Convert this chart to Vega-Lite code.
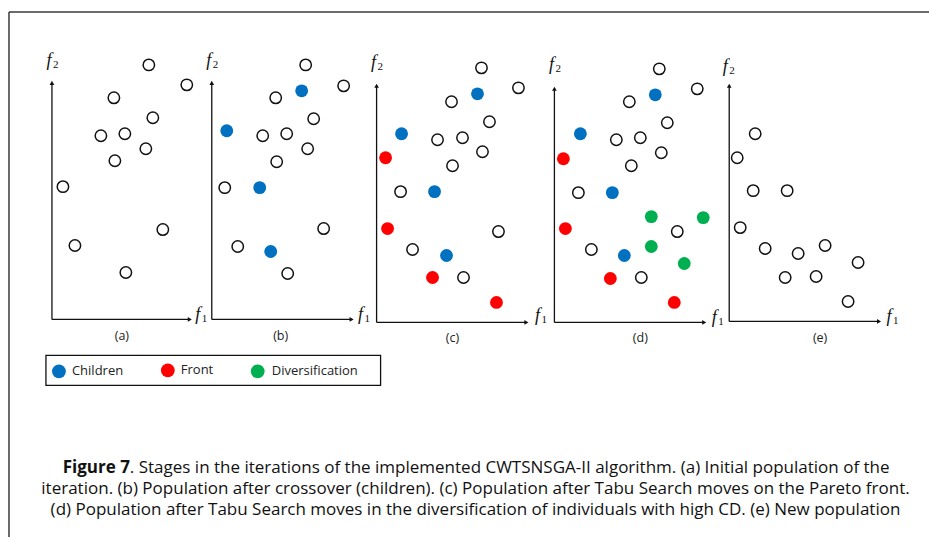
{
  "$schema": "https://vega.github.io/schema/vega-lite/v6.json",
  "autosize": {"type": "fit", "contains": "padding"},
  "width": 930,
  "height": 538,
  "padding": 0,
  "background": "white",
  "config": {"view": {"stroke": null}},
  "datasets": {
    "points": [
      {"panel": "a", "kind": "Open", "x": 149, "y": 65}, {"panel": "a", "kind": "Open", "x": 187, "y": 85}, {"panel": "a", "kind": "Open", "x": 114, "y": 98}, {"panel": "a", "kind": "Open", "x": 153, "y": 118}, {"panel": "a", "kind": "Open", "x": 101, "y": 136}, {"panel": "a", "kind": "Open", "x": 125, "y": 134}, {"panel": "a", "kind": "Open", "x": 146, "y": 149}, {"panel": "a", "kind": "Open", "x": 115, "y": 161}, {"panel": "a", "kind": "Open", "x": 63, "y": 187}, {"panel": "a", "kind": "Open", "x": 163, "y": 230}, {"panel": "a", "kind": "Open", "x": 75, "y": 246}, {"panel": "a", "kind": "Open", "x": 126, "y": 273},
      {"panel": "b", "kind": "Open", "x": 306, "y": 65}, {"panel": "b", "kind": "Open", "x": 344, "y": 86}, {"panel": "b", "kind": "Open", "x": 276, "y": 98}, {"panel": "b", "kind": "Open", "x": 314, "y": 119}, {"panel": "b", "kind": "Open", "x": 263, "y": 136}, {"panel": "b", "kind": "Open", "x": 287, "y": 134}, {"panel": "b", "kind": "Open", "x": 308, "y": 149}, {"panel": "b", "kind": "Open", "x": 277, "y": 162}, {"panel": "b", "kind": "Open", "x": 225, "y": 188}, {"panel": "b", "kind": "Open", "x": 324, "y": 229}, {"panel": "b", "kind": "Open", "x": 238, "y": 247}, {"panel": "b", "kind": "Open", "x": 288, "y": 274},
      {"panel": "b", "kind": "Children", "x": 302, "y": 91}, {"panel": "b", "kind": "Children", "x": 227, "y": 131}, {"panel": "b", "kind": "Children", "x": 260, "y": 188}, {"panel": "b", "kind": "Children", "x": 271, "y": 252},
      {"panel": "c", "kind": "Open", "x": 482, "y": 68}, {"panel": "c", "kind": "Open", "x": 519, "y": 88}, {"panel": "c", "kind": "Open", "x": 452, "y": 102}, {"panel": "c", "kind": "Open", "x": 490, "y": 122}, {"panel": "c", "kind": "Open", "x": 438, "y": 140}, {"panel": "c", "kind": "Open", "x": 463, "y": 138}, {"panel": "c", "kind": "Open", "x": 483, "y": 152}, {"panel": "c", "kind": "Open", "x": 453, "y": 166}, {"panel": "c", "kind": "Open", "x": 401, "y": 192}, {"panel": "c", "kind": "Open", "x": 499, "y": 232}, {"panel": "c", "kind": "Open", "x": 413, "y": 250}, {"panel": "c", "kind": "Open", "x": 464, "y": 278},
      {"panel": "c", "kind": "Children", "x": 478, "y": 94}, {"panel": "c", "kind": "Children", "x": 402, "y": 134}, {"panel": "c", "kind": "Children", "x": 435, "y": 192}, {"panel": "c", "kind": "Children", "x": 447, "y": 256},
      {"panel": "c", "kind": "Front", "x": 386, "y": 158}, {"panel": "c", "kind": "Front", "x": 388, "y": 229}, {"panel": "c", "kind": "Front", "x": 433, "y": 278}, {"panel": "c", "kind": "Front", "x": 497, "y": 303},
      {"panel": "d", "kind": "Open", "x": 660, "y": 69}, {"panel": "d", "kind": "Open", "x": 698, "y": 89}, {"panel": "d", "kind": "Open", "x": 630, "y": 102}, {"panel": "d", "kind": "Open", "x": 668, "y": 123}, {"panel": "d", "kind": "Open", "x": 617, "y": 140}, {"panel": "d", "kind": "Open", "x": 641, "y": 138}, {"panel": "d", "kind": "Open", "x": 662, "y": 153}, {"panel": "d", "kind": "Open", "x": 632, "y": 166}, {"panel": "d", "kind": "Open", "x": 579, "y": 193}, {"panel": "d", "kind": "Open", "x": 678, "y": 232}, {"panel": "d", "kind": "Open", "x": 592, "y": 250}, {"panel": "d", "kind": "Open", "x": 642, "y": 278},
      {"panel": "d", "kind": "Children", "x": 656, "y": 95}, {"panel": "d", "kind": "Children", "x": 581, "y": 134}, {"panel": "d", "kind": "Children", "x": 613, "y": 193}, {"panel": "d", "kind": "Children", "x": 625, "y": 256},
      {"panel": "d", "kind": "Front", "x": 564, "y": 159}, {"panel": "d", "kind": "Front", "x": 566, "y": 229}, {"panel": "d", "kind": "Front", "x": 611, "y": 279}, {"panel": "d", "kind": "Front", "x": 675, "y": 303},
      {"panel": "d", "kind": "Diversification", "x": 652, "y": 217}, {"panel": "d", "kind": "Diversification", "x": 704, "y": 218}, {"panel": "d", "kind": "Diversification", "x": 652, "y": 247}, {"panel": "d", "kind": "Diversification", "x": 685, "y": 264},
      {"panel": "e", "kind": "Open", "x": 756, "y": 134}, {"panel": "e", "kind": "Open", "x": 738, "y": 158}, {"panel": "e", "kind": "Open", "x": 754, "y": 191}, {"panel": "e", "kind": "Open", "x": 788, "y": 191}, {"panel": "e", "kind": "Open", "x": 741, "y": 228}, {"panel": "e", "kind": "Open", "x": 766, "y": 249}, {"panel": "e", "kind": "Open", "x": 799, "y": 254}, {"panel": "e", "kind": "Open", "x": 826, "y": 246}, {"panel": "e", "kind": "Open", "x": 859, "y": 263}, {"panel": "e", "kind": "Open", "x": 786, "y": 278}, {"panel": "e", "kind": "Open", "x": 817, "y": 277}, {"panel": "e", "kind": "Open", "x": 849, "y": 302}
    ],
    "axes": [
      {"panel": "a", "x": 52, "y": 320, "x2": 52, "y2": 84}, {"panel": "a", "x": 52, "y": 320, "x2": 189, "y2": 320},
      {"panel": "b", "x": 212, "y": 320, "x2": 212, "y2": 84}, {"panel": "b", "x": 212, "y": 320, "x2": 351, "y2": 320},
      {"panel": "c", "x": 377, "y": 323, "x2": 377, "y2": 87}, {"panel": "c", "x": 377, "y": 323, "x2": 526, "y2": 323},
      {"panel": "d", "x": 555, "y": 323, "x2": 555, "y2": 90}, {"panel": "d", "x": 555, "y": 323, "x2": 704, "y2": 323},
      {"panel": "e", "x": 730, "y": 322, "x2": 730, "y2": 87}, {"panel": "e", "x": 730, "y": 322, "x2": 879, "y2": 322}
    ],
    "arrowsUp": [
      {"x": 52, "y": 83}, {"x": 212, "y": 83}, {"x": 377, "y": 86}, {"x": 555, "y": 89}, {"x": 730, "y": 86}
    ],
    "arrowsRight": [
      {"x": 190, "y": 320}, {"x": 352, "y": 320}, {"x": 527, "y": 323}, {"x": 705, "y": 323}, {"x": 880, "y": 322}
    ],
    "axisLabels": [
      {"sub": "2", "x": 52, "y": 61}, {"sub": "2", "x": 212, "y": 61}, {"sub": "2", "x": 377, "y": 63}, {"sub": "2", "x": 555, "y": 65}, {"sub": "2", "x": 729, "y": 67},
      {"sub": "1", "x": 201, "y": 316}, {"sub": "1", "x": 364, "y": 316}, {"sub": "1", "x": 541, "y": 317}, {"sub": "1", "x": 718, "y": 319}, {"sub": "1", "x": 893, "y": 318}
    ],
    "panelLabels": [
      {"t": "(a)", "x": 122, "y": 337}, {"t": "(b)", "x": 281, "y": 337}, {"t": "(c)", "x": 453, "y": 339}, {"t": "(d)", "x": 641, "y": 339}, {"t": "(e)", "x": 821, "y": 339}
    ],
    "frame": [
      {"x": 9, "y": 12, "x2": 930, "y2": 12}, {"x": 9, "y": 12, "x2": 9, "y2": 538}
    ],
    "legendBox": [{"x": 46, "y": 356, "x2": 381, "y2": 386}],
    "legendItems": [
      {"kind": "Children", "x": 59, "y": 372, "tx": 72}, {"kind": "Front", "x": 168, "y": 371, "tx": 181}, {"kind": "Diversification", "x": 258, "y": 372, "tx": 272}
    ],
    "captionBold": [{"t": "Figure 7", "x": 130, "y": 469}],
    "caption": [
      {"t": ". Stages in the iterations of the implemented CWTSNSGA-II algorithm. (a) Initial population of the", "x": 130, "y": 469}
    ],
    "captionCentered": [
      {"t": "iteration. (b) Population after crossover (children). (c) Population after Tabu Search moves on the Pareto front.", "x": 476, "y": 490},
      {"t": "(d) Population after Tabu Search moves in the diversification of individuals with high CD. (e) New population", "x": 476, "y": 511}
    ]
  },
  "encoding": {
    "x": {"field": "x", "type": "quantitative", "scale": {"domain": [0, 930], "nice": false, "zero": false}, "axis": null},
    "y": {"field": "y", "type": "quantitative", "scale": {"domain": [0, 538], "nice": false, "zero": false, "reverse": true}, "axis": null}
  },
  "layer": [
    {
      "data": {"name": "frame"},
      "mark": {"type": "rule", "stroke": "#3a3a3a", "strokeWidth": 1.5},
      "encoding": {"x2": {"field": "x2"}, "y2": {"field": "y2"}}
    },
    {
      "data": {"name": "axes"},
      "mark": {"type": "rule", "stroke": "#111", "strokeWidth": 1.3},
      "encoding": {"x2": {"field": "x2"}, "y2": {"field": "y2"}}
    },
    {
      "data": {"name": "arrowsUp"},
      "mark": {"type": "point", "shape": "triangle-up", "filled": true, "fill": "#111", "size": 22, "opacity": 1}
    },
    {
      "data": {"name": "arrowsRight"},
      "mark": {"type": "point", "shape": "triangle-right", "filled": true, "fill": "#111", "size": 22, "opacity": 1}
    },
    {
      "data": {"name": "points"},
      "transform": [{"filter": "datum.kind === 'Open'"}],
      "mark": {"type": "point", "shape": "circle", "filled": false, "fill": "white", "stroke": "#111", "strokeWidth": 1.5, "size": 130, "opacity": 1}
    },
    {
      "data": {"name": "points"},
      "transform": [{"filter": "datum.kind !== 'Open'"}],
      "mark": {"type": "point", "shape": "circle", "filled": true, "size": 165, "opacity": 1},
      "encoding": {
        "color": {"field": "kind", "type": "nominal", "scale": {"domain": ["Children", "Front", "Diversification"], "range": ["#0070C0", "#FF0000", "#00B050"]}, "legend": null}
      }
    },
    {
      "data": {"name": "axisLabels"},
      "mark": {"type": "text", "font": "Liberation Serif", "fontStyle": "italic", "fontSize": 18, "align": "center", "baseline": "middle", "color": "#111", "dx": -3},
      "encoding": {"text": {"value": "f"}}
    },
    {
      "data": {"name": "axisLabels"},
      "mark": {"type": "text", "font": "Liberation Serif", "fontSize": 11, "align": "left", "baseline": "middle", "color": "#111", "dx": 1, "dy": 4},
      "encoding": {"text": {"field": "sub"}}
    },
    {
      "data": {"name": "panelLabels"},
      "mark": {"type": "text", "font": "Open Sans", "fontSize": 12.5, "align": "center", "baseline": "middle", "color": "#222"},
      "encoding": {"text": {"field": "t"}}
    },
    {
      "data": {"name": "legendBox"},
      "mark": {"type": "rect", "fill": null, "stroke": "#111", "strokeWidth": 1.3},
      "encoding": {"x2": {"field": "x2"}, "y2": {"field": "y2"}}
    },
    {
      "data": {"name": "legendItems"},
      "mark": {"type": "point", "shape": "circle", "filled": true, "size": 190, "opacity": 1},
      "encoding": {
        "color": {"field": "kind", "type": "nominal", "scale": {"domain": ["Children", "Front", "Diversification"], "range": ["#0070C0", "#FF0000", "#00B050"]}, "legend": null}
      }
    },
    {
      "data": {"name": "legendItems"},
      "mark": {"type": "text", "font": "Open Sans", "fontSize": 13, "align": "left", "baseline": "middle", "color": "#222"},
      "encoding": {"x": {"field": "tx", "type": "quantitative"}, "text": {"field": "kind"}}
    },
    {
      "data": {"name": "captionBold"},
      "mark": {"type": "text", "font": "Open Sans", "fontSize": 17, "fontWeight": "bold", "align": "right", "baseline": "middle", "color": "#111"},
      "encoding": {"text": {"field": "t"}}
    },
    {
      "data": {"name": "caption"},
      "mark": {"type": "text", "font": "Open Sans", "fontSize": 17, "align": "left", "baseline": "middle", "color": "#111"},
      "encoding": {"text": {"field": "t"}}
    },
    {
      "data": {"name": "captionCentered"},
      "mark": {"type": "text", "font": "Open Sans", "fontSize": 17, "align": "center", "baseline": "middle", "color": "#111"},
      "encoding": {"text": {"field": "t"}}
    }
  ]
}
